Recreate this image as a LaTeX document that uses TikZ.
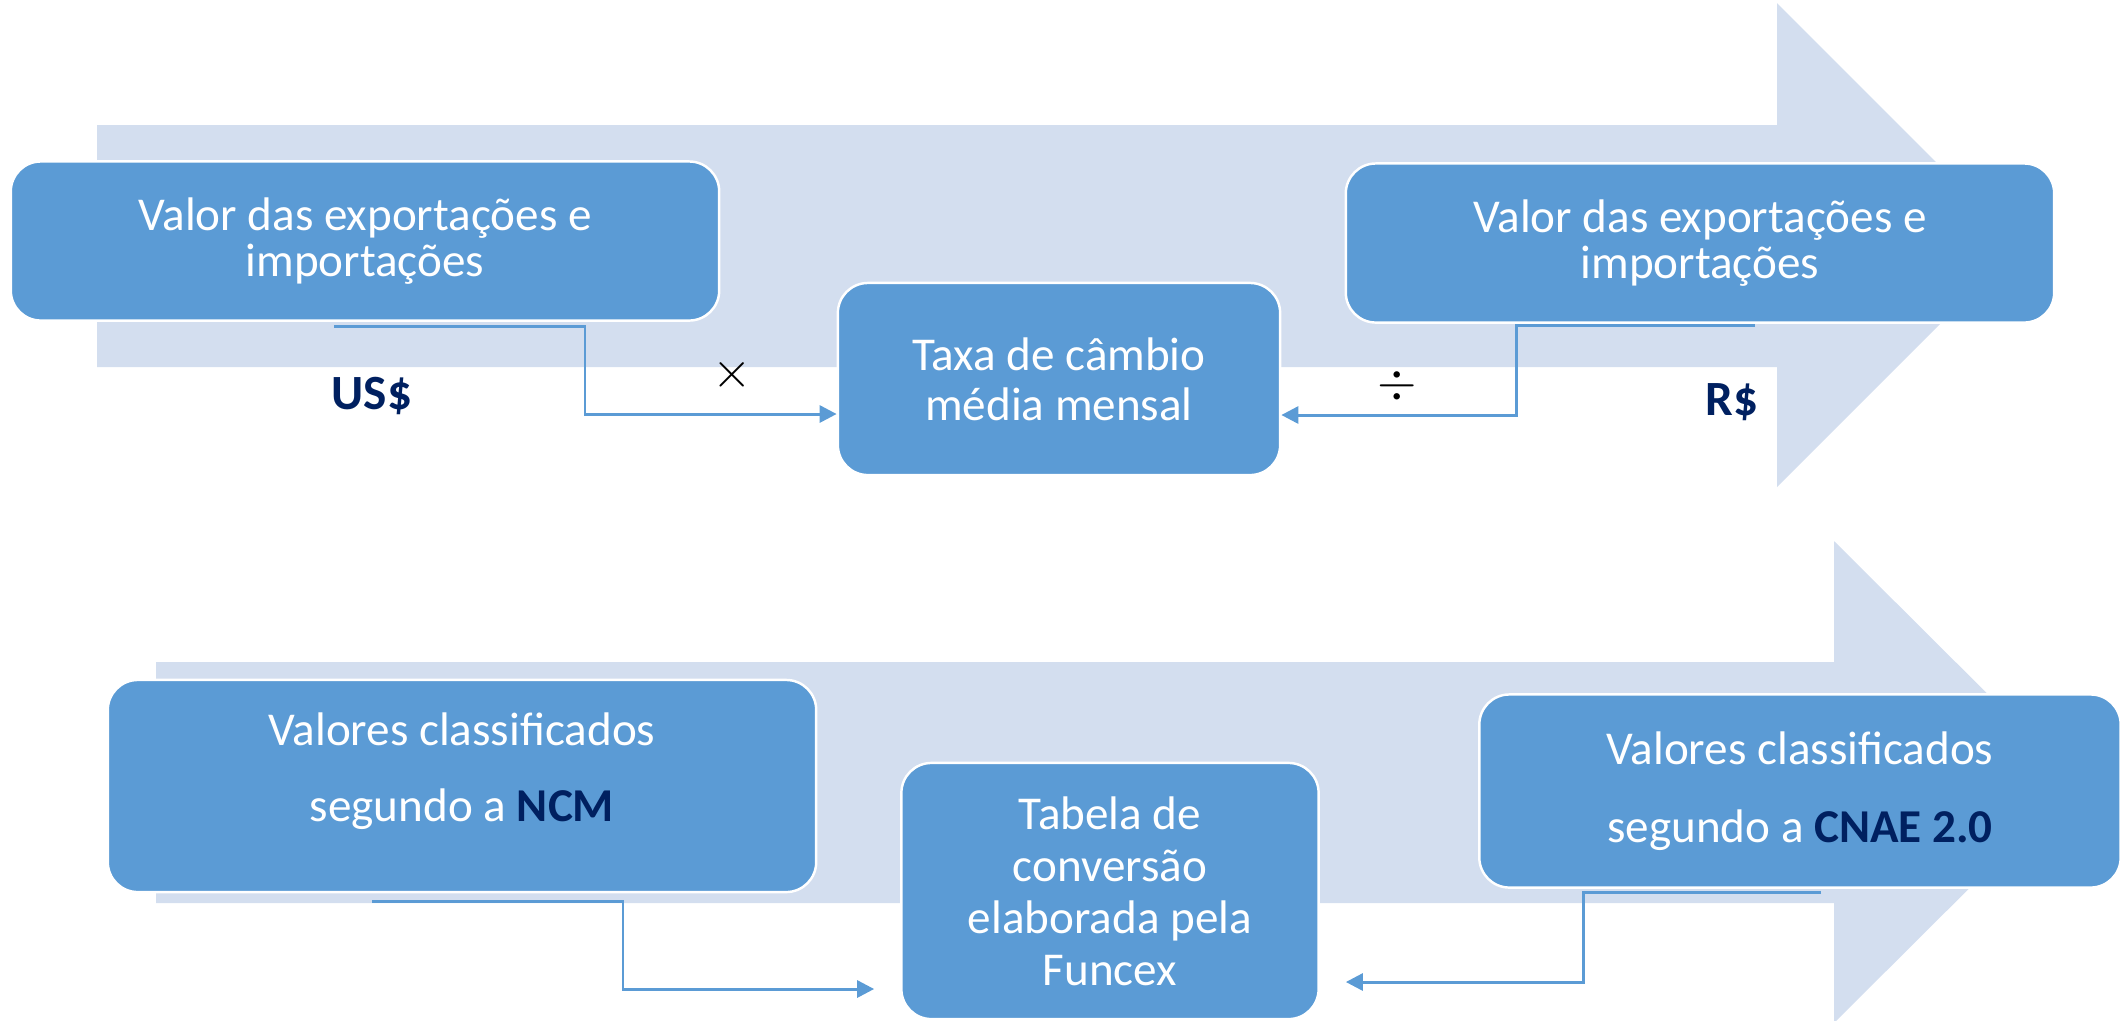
\documentclass[tikz,border=0pt]{standalone}
\usepackage{fontspec}
\setmainfont{Carlito}
\usetikzlibrary{arrows.meta}
\definecolor{boxblue}{HTML}{5B9BD5}
\definecolor{paleblue}{HTML}{D3DEEF}
\definecolor{navy}{HTML}{002060}

\begin{document}
\begin{tikzpicture}[x=0.01cm,y=-0.01cm,
  box/.style={rounded corners=0.3cm,fill=boxblue,draw=white,line width=0.7pt,text=white,align=center,inner sep=0},
  conn/.style={draw=boxblue,line width=0.85pt,-{Triangle[length=0.17cm,width=0.17cm]}},
  unit/.style={text=navy,font=\bfseries\fontsize{14pt}{14pt}\selectfont,inner sep=0},
  oper/.style={font=\fontsize{14pt}{14pt}\selectfont,inner sep=0}]
\useasboundingbox (0,0) rectangle (2123,1020);
\clip (0,0) rectangle (2123,1020);

% background arrows
\fill[paleblue] (97,125) -- (1777,125) -- (1777,3) -- (2019,245) -- (1777,487) -- (1777,367) -- (97,367) -- cycle;
\fill[paleblue] (156,662) -- (1834,662) -- (1834,541) -- (2076,782) -- (1834,1023) -- (1834,903) -- (156,903) -- cycle;

% upper row
\node[box,minimum width=7.08cm,minimum height=1.59cm,font=\fontsize{13.4pt}{13.1pt}\selectfont] (valorusd) at (365,241) {Valor das exportações e\\importações};
\node[box,minimum width=4.42cm,minimum height=1.92cm,font=\fontsize{13.4pt}{14.2pt}\selectfont] (taxa) at (1059,379) {Taxa de câmbio\\média mensal};
\node[box,minimum width=7.08cm,minimum height=1.59cm,font=\fontsize{13.4pt}{13.3pt}\selectfont] (valorbrl) at (1700,243) {Valor das exportações e\\importações};

\node[unit] (usd) at (372,396) {US\$};
\node[unit] (brl) at (1732,402) {R\$};
\node[oper] (vezes) at (732,375) {$\times$};
\node[oper] (divide) at (1397,386) {$\div$};

\coordinate (usdfrom) at (334,326);
\coordinate (usdbend) at (585,414);
\coordinate (brlfrom) at (1755,325);
\coordinate (brlbend) at (1516,415);
\draw[conn] (usdfrom) -| (usdbend) -- (usdbend -| taxa.west);
\draw[conn] (brlfrom) -| (brlbend) -- (brlbend -| taxa.east);

% lower row
\node[box,minimum width=7.08cm,minimum height=2.12cm,text depth=10.5pt,font=\fontsize{13.4pt}{21.6pt}\selectfont] (ncm) at (462,786) {Valores classificados\\segundo a \textbf{\textcolor{navy}{NCM}}};
\node[box,minimum width=4.17cm,minimum height=2.56cm,font=\fontsize{13.4pt}{14.8pt}\selectfont] (tabela) at (1110,891) {Tabela de\\conversão\\elaborada pela\\Funcex};
\node[box,minimum width=6.41cm,minimum height=1.93cm,font=\fontsize{13.4pt}{22.2pt}\selectfont] (cnae) at (1800,791) {Valores classificados\\segundo a \textbf{\textcolor{navy}{CNAE 2.0}}};

\coordinate (ncmfrom) at (372,901);
\coordinate (ncmbend) at (623,989);
\coordinate (cnaefrom) at (1821,892);
\coordinate (cnaebend) at (1583,982);
\draw[conn,shorten >=0.26cm] (ncmfrom) -| (ncmbend) -- (ncmbend -| tabela.west);
\draw[conn,shorten >=0.26cm] (cnaefrom) -| (cnaebend) -- (cnaebend -| tabela.east);
\end{tikzpicture}
\end{document}
